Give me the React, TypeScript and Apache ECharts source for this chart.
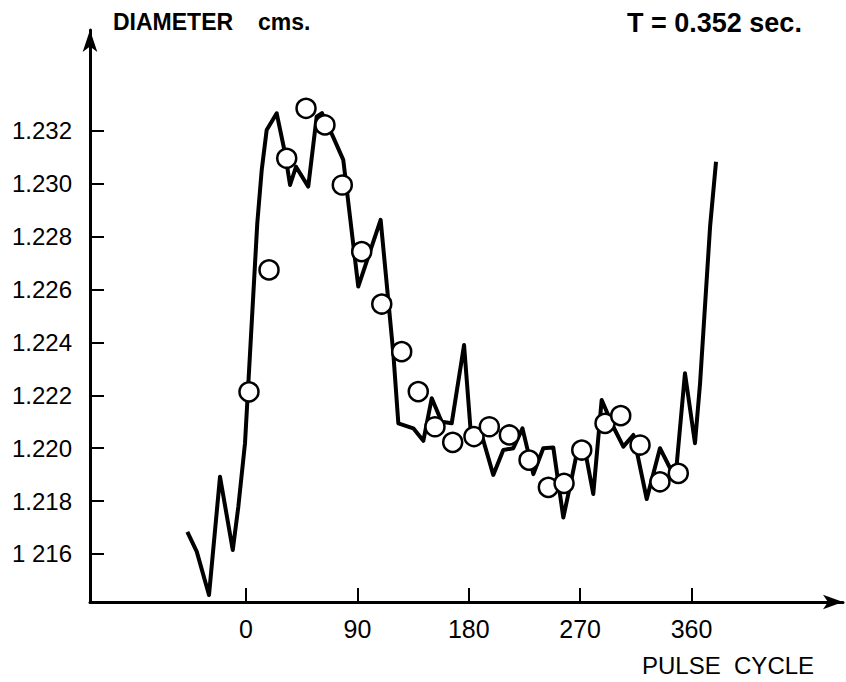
import React, { useEffect, useRef } from "react";
import * as echarts from "echarts";

// Measured curve: pulse cycle (degrees) and diameter (cm)
const lineDeg = [
  -47.4, -39.8, -29.9, -21.0, -10.7, -6.2, -0.8, 9.1, 12.7, 16.7, 24.8, 31.5, 35.6, 40.4,
  50.3, 57.1, 61.4, 70.3, 78.6, 90.7, 108.8, 119.0, 123.1, 135.2, 143.3, 150.1, 158.1,
  166.2, 176.2, 181.6, 190.5, 199.8, 207.9, 216.0, 223.4, 232.2, 240.2, 248.3, 256.4,
  263.2, 267.5, 273.9, 280.6, 287.4, 296.8, 304.9, 313.0, 323.8, 334.5, 342.6, 348.0,
  354.7, 362.8, 366.9, 375.0, 379.8,
];
const lineDiameter = [
  1.21684, 1.21609, 1.21445, 1.21892, 1.21615, 1.21779, 1.22019, 1.2285, 1.23052, 1.23203,
  1.23266, 1.23116, 1.22995, 1.23064, 1.22989, 1.23253, 1.23267, 1.23178, 1.2309, 1.22611,
  1.22863, 1.2236, 1.22094, 1.22075, 1.22028, 1.22189, 1.221, 1.22094, 1.2239, 1.22062,
  1.2205, 1.21899, 1.21993, 1.22, 1.22075, 1.21902, 1.22, 1.22003, 1.21738, 1.21887,
  1.21986, 1.21993, 1.21827, 1.22182, 1.22081, 1.22006, 1.2205, 1.21808, 1.22, 1.21925,
  1.21937, 1.22283, 1.22019, 1.22245, 1.22838, 1.23083,
];

// Circles: pulse cycle (degrees) and diameter (cm)
const pointDeg = [
  2.4, 18.6, 32.9, 48.5, 63.8, 77.8, 93.5, 109.7, 125.8, 139.2, 152.7, 167.0, 184.2,
  196.6, 212.8, 228.7, 244.3, 257.0, 271.3, 290.1, 302.8, 318.4, 334.5, 349.3,
];
const pointDiameter = [
  1.22213, 1.22674, 1.23096, 1.23285, 1.23222, 1.22995, 1.22743, 1.22545, 1.22365,
  1.22214, 1.22081, 1.22022, 1.22044, 1.22081, 1.2205, 1.21955, 1.21852, 1.21867,
  1.21993, 1.22094, 1.22123, 1.22012, 1.21873, 1.21905,
];

const xTicks = [0, 90, 180, 270, 360];
const yTicks = [1.216, 1.218, 1.22, 1.222, 1.224, 1.226, 1.228, 1.23, 1.232];

const FONT = "Liberation Sans";

export default function App() {
  const ref = useRef<HTMLDivElement>(null);
  useEffect(() => {
    if (!ref.current) return;
    const chart = echarts.init(ref.current, null, { renderer: "svg" });
    const lineData = lineDeg.map((d, i) => [d, lineDiameter[i]]);
    const pointData = pointDeg.map((d, i) => [d, pointDiameter[i]]);
    chart.setOption({
      animation: false,
      backgroundColor: "#ffffff",
      grid: { left: 90, top: 30, right: 3, bottom: 80, containLabel: false },
      xAxis: {
        type: "value",
        min: -126.06,
        max: 482.4,
        splitLine: { show: false },
        axisLine: {
          show: true,
          onZero: false,
          lineStyle: { color: "#000", width: 3 },
          symbol: ["none", "arrow"],
          symbolSize: [11, 20],
        },
        axisTick: {
          show: true,
          inside: true,
          length: 14,
          customValues: xTicks,
          lineStyle: { color: "#000", width: 2 },
        },
        axisLabel: {
          customValues: xTicks,
          color: "#000",
          fontFamily: FONT,
          fontSize: 25,
          margin: 14,
        },
      },
      yAxis: {
        type: "value",
        min: 1.214185,
        max: 1.23581,
        splitLine: { show: false },
        axisLine: {
          show: true,
          onZero: false,
          lineStyle: { color: "#000", width: 3 },
          symbol: ["none", "arrow"],
          symbolSize: [11, 22],
        },
        axisTick: {
          show: true,
          inside: true,
          length: 14,
          customValues: yTicks,
          lineStyle: { color: "#000", width: 2 },
        },
        axisLabel: {
          customValues: yTicks,
          color: "#000",
          fontFamily: FONT,
          fontSize: 24,
          margin: 18,
          formatter: (v: number) =>
            Math.abs(v - 1.216) < 1e-6 ? "1 216" : v.toFixed(3),
        },
      },
      series: [
        {
          type: "line",
          data: lineData,
          symbol: "none",
          lineStyle: { color: "#000", width: 4, join: "round" },
          z: 2,
        },
        {
          type: "scatter",
          data: pointData,
          symbol: "circle",
          symbolSize: 19,
          itemStyle: { color: "#fff", borderColor: "#000", borderWidth: 2.5, opacity: 1 },
          z: 3,
        },
      ],
      graphic: [
        {
          type: "text",
          left: 113,
          top: 10,
          style: { text: "DIAMETER", fontFamily: FONT, fontSize: 23, fontWeight: "bold", fill: "#000" },
        },
        {
          type: "text",
          left: 258,
          top: 10,
          style: { text: "cms.", fontFamily: FONT, fontSize: 23, fontWeight: "bold", fill: "#000" },
        },
        {
          type: "text",
          left: 627,
          top: 9,
          style: { text: "T = 0.352 sec.", fontFamily: FONT, fontSize: 27, fontWeight: "bold", fill: "#000" },
        },
        {
          type: "text",
          left: 642,
          top: 653,
          style: { text: "PULSE  CYCLE", fontFamily: FONT, fontSize: 24, fill: "#000" },
        },
      ],
    });
    return () => chart.dispose();
  }, []);
  return (
    <div
      ref={ref}
      style={{ position: "fixed", left: 0, top: 0, width: 846, height: 682, background: "#fff" }}
    />
  );
}
